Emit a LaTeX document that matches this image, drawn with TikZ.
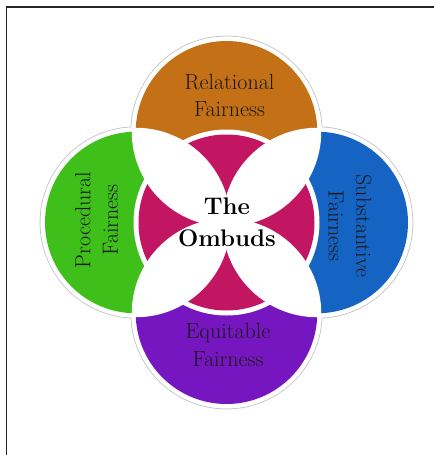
\documentclass[tikz,border=0pt]{standalone}
\usepackage{tikz}

\definecolor{relcol}{RGB}{195,112,22}
\definecolor{procol}{RGB}{62,191,26}
\definecolor{subcol}{RGB}{21,100,196}
\definecolor{equcol}{RGB}{118,22,192}
\definecolor{hubcol}{RGB}{194,21,98}
\definecolor{rimcol}{RGB}{196,196,196}

% radii of the four petals, the white gaps and the middle disc
\newcommand{\petalr}{90.75pt}
\newcommand{\gapr}{94.75pt}
\newcommand{\rimr}{95.6pt}
\newcommand{\rimfill}{95.2pt}
\newcommand{\hubr}{88pt}
\newcommand{\hubgap}{93pt}

\begin{document}
\begin{tikzpicture}[
  x=1pt, y=-1pt,
  every node/.style={inner sep=0pt},
  frame/.style={draw, line width=1.6pt, black!85},
  rim/.style={draw=rimcol, line width=1pt},
  lbl/.style={align=center, text=black!90, font=\fontsize{22}{27.5}\selectfont},
  hublbl/.style={align=center, text=black, font=\bfseries\fontsize{24}{32}\selectfont}]

  \useasboundingbox (0,0) rectangle (434,455);

  % centres
  \coordinate (c)     at (226.5,222.5);
  \coordinate (top)   at (226.5,131.75);
  \coordinate (bot)   at (226.5,313.25);
  \coordinate (left)  at (135.75,222.5);
  \coordinate (right) at (317.25,222.5);

  % frame
  \coordinate (fa) at (6.5,455);
  \coordinate (fb) at (6.5,6.7);
  \coordinate (fc) at (434,6.7);
  \draw[frame] (fa) -- (fb) -- (fc);

  % grey rims, then the white body of each petal
  \foreach \p in {top,bot,left,right}
    \draw[rim] (\p) circle (\rimr);
  \foreach \p in {top,bot,left,right}
    \fill[white] (\p) circle (\rimfill);

  % petals
  \fill[relcol] (top)   circle (\petalr);
  \fill[equcol] (bot)   circle (\petalr);
  \fill[procol] (left)  circle (\petalr);
  \fill[subcol] (right) circle (\petalr);

  % middle disc with its white ring
  \fill[white]  (c) circle (\hubgap);
  \fill[hubcol] (c) circle (\hubr);

  % white lenses where two petals overlap
  \foreach \a/\b in {top/left,top/right,bot/left,bot/right}{
    \begin{scope}
      \clip (\a) circle (\gapr);
      \fill[white] (\b) circle (\gapr);
    \end{scope}
  }

  % labels
  \node[lbl] (rel) at (229.5,95.5)  {Relational\\Fairness};
  \node[lbl] (equ) at (228,345) {Equitable\\Fairness};
  \node[lbl, rotate=90]  (pro) at (96.5,220)  {Procedural\\Fairness};
  \node[lbl, rotate=-90] (sub) at (350,226) {Substantive\\Fairness};
  \node[hublbl] (hub) at (227,222) {The\\Ombuds};
\end{tikzpicture}
\end{document}
